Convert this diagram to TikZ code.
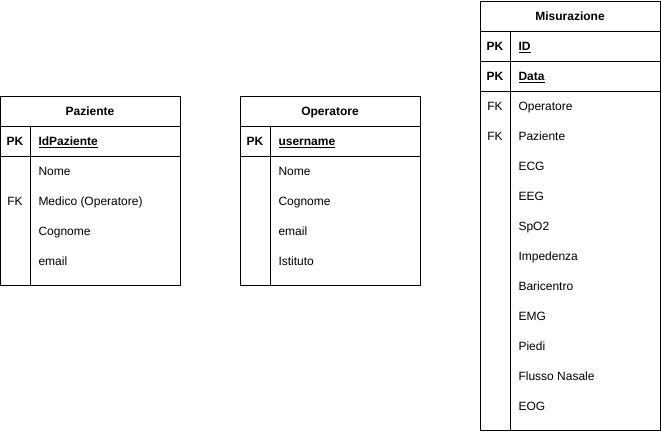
\documentclass[tikz,border=0pt]{standalone}
\usepackage{fontspec}
\setmainfont{Liberation Sans}
\begin{document}
\begin{tikzpicture}[x=1pt,y=-1pt,line width=1pt,
  tbl/.style={draw=black,line width=1pt},
  txt/.style={font=\fontsize{12}{14}\selectfont,inner sep=0pt},
  ttl/.style={txt,font=\fontsize{12}{14}\selectfont\bfseries,anchor=base},
  keyl/.style={txt,anchor=base},
  pkl/.style={txt,font=\fontsize{12}{14}\selectfont\bfseries,anchor=base},
  attr/.style={txt,anchor=base west},
  pkattr/.style={txt,font=\fontsize{12}{14}\selectfont\bfseries,anchor=base west}]
\useasboundingbox (0,0) rectangle (661,431);
% Paziente
\draw[tbl] (0.5,96) rectangle (180,285);
\draw[tbl] (0.5,126) -- (180,126);
\draw[tbl] (0.5,156) -- (180,156);
\draw[tbl] (30,126) -- (30,285);
\node[ttl] (pT) at (90,115.3) {Paziente};
\node[pkl] (pPK) at (15,145.3) {PK};
\node[pkattr] (pId) at (38,145.3) {\underline{IdPaziente}};
\node[attr] (pNome) at (38,175.3) {Nome};
\node[keyl] (pFK) at (15,205.3) {FK};
\node[attr] (pMed) at (38,205.3) {Medico (Operatore)};
\node[attr] (pCog) at (38,235.3) {Cognome};
\node[attr] (pEm) at (38,265.3) {email};
% Operatore
\draw[tbl] (240.5,96) rectangle (420,285);
\draw[tbl] (240.5,126) -- (420,126);
\draw[tbl] (240.5,156) -- (420,156);
\draw[tbl] (270,126) -- (270,285);
\node[ttl] (oT) at (330,115.3) {Operatore};
\node[pkl] (oPK) at (255,145.3) {PK};
\node[pkattr] (oUser) at (278,145.3) {\underline{username}};
\node[attr] (oNome) at (278,175.3) {Nome};
\node[attr] (oCog) at (278,205.3) {Cognome};
\node[attr] (oEm) at (278,235.3) {email};
\node[attr] (oIst) at (278,265.3) {Istituto};
% Misurazione
\draw[tbl] (480.5,1) rectangle (660,430);
\draw[tbl] (480.5,31) -- (660,31);
\draw[tbl] (480.5,61) -- (660,61);
\draw[tbl] (480.5,91) -- (660,91);
\draw[tbl] (510,31) -- (510,430);
\node[ttl] (mT) at (570,20.3) {Misurazione};
\node[pkl] (mPK1) at (495,50.3) {PK};
\node[pkattr] (mId) at (518,50.3) {\underline{ID}};
\node[pkl] (mPK2) at (495,80.3) {PK};
\node[pkattr] (mData) at (518,80.3) {\underline{Data}};
\node[keyl] (mFK1) at (495,110.3) {FK};
\node[attr] (mOp) at (518,110.3) {Operatore};
\node[keyl] (mFK2) at (495,140.3) {FK};
\node[attr] (mPaz) at (518,140.3) {Paziente};
\node[attr] (mECG) at (518,170.3) {ECG};
\node[attr] (mEEG) at (518,200.3) {EEG};
\node[attr] (mSpO) at (518,230.3) {SpO2};
\node[attr] (mImp) at (518,260.3) {Impedenza};
\node[attr] (mBar) at (518,290.3) {Baricentro};
\node[attr] (mEMG) at (518,320.3) {EMG};
\node[attr] (mPie) at (518,350.3) {Piedi};
\node[attr] (mFlu) at (518,380.3) {Flusso Nasale};
\node[attr] (mEOG) at (518,410.3) {EOG};
\end{tikzpicture}
\end{document}
